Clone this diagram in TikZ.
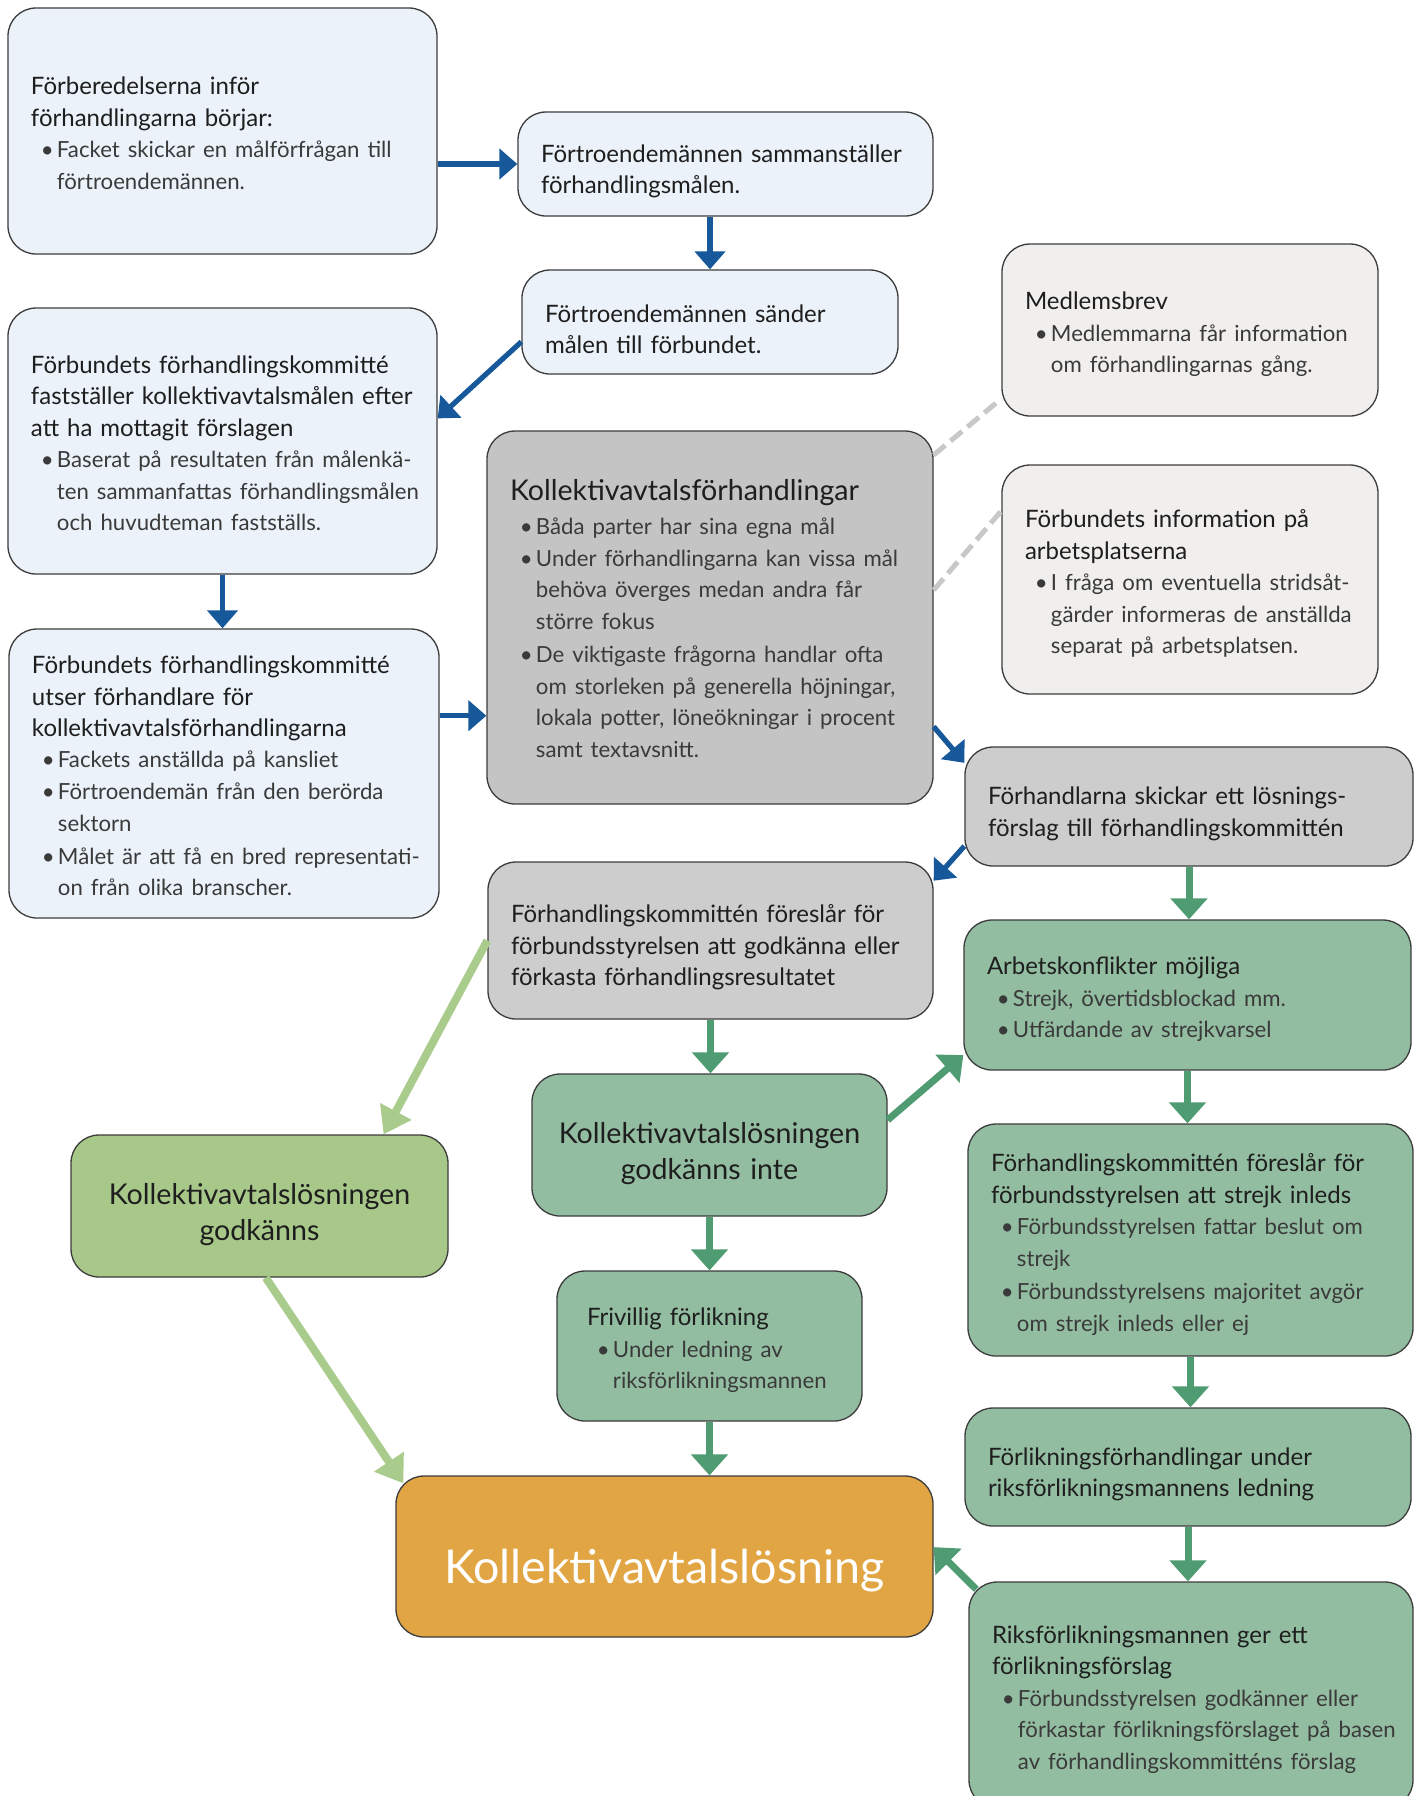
\documentclass[tikz,border=0pt]{standalone}
\usepackage{fontspec}
\setmainfont{Lato}
\usetikzlibrary{arrows.meta}

\definecolor{paleblue}{HTML}{EBF2FA}
\definecolor{flowblue}{HTML}{16589A}
\definecolor{darkgray}{HTML}{C4C4C4}
\definecolor{midgray}{HTML}{CDCDCD}
\definecolor{palegray}{HTML}{F0EFED}
\definecolor{sagegreen}{HTML}{93BDA1}
\definecolor{flowgreen}{HTML}{4F9C72}
\definecolor{limegreen}{HTML}{A8C889}
\definecolor{flowlime}{HTML}{A9CB8C}
\definecolor{amber}{HTML}{E2A544}
\definecolor{edgegray}{HTML}{3C3C3C}
\definecolor{inkblack}{HTML}{1E1E1E}
\definecolor{bulletgray}{HTML}{3A3A3A}
\definecolor{dashgray}{HTML}{C8C8C8}

\setlength{\parindent}{0pt}
\def\bodysize{\fontsize{12}{15.75}\selectfont}
\def\bigsize{\fontsize{14.3}{18.3}\selectfont}
\def\hugesize{\fontsize{23.3}{28}\selectfont}
\newcommand{\bpoint}[1]{\par{\color{bulletgray}\fontsize{11.1}{15.75}\selectfont\noindent\hspace*{0.45em}\makebox[0.72em][l]{\textbullet}\begin{tabular}[t]{@{}l@{}}#1\end{tabular}\par}}

\begin{document}
\begin{tikzpicture}[x=0.5pt, y=-0.5pt,
    card/.style={draw=edgegray, line width=0.65pt, rounded corners=14pt,
      inner xsep=11.5pt, inner ysep=3pt, align=left, text=inkblack, font=\bodysize,
      execute at begin node={\rule{0pt}{1.33em}}},
    bluecard/.style={card, fill=paleblue},
    graycard/.style={card, fill=darkgray},
    midcard/.style={card, fill=midgray},
    palecard/.style={card, fill=palegray},
    greencard/.style={card, fill=sagegreen},
    bigcard/.style={align=center, font=\bigsize, execute at begin node={\rule{0pt}{1.1em}}},
    bluearrow/.style={draw=flowblue, line width=2.6pt, -{Triangle[width=15pt,length=9pt]}},
    greenarrow/.style={draw=flowgreen, line width=3.5pt, -{Triangle[width=18pt,length=10.5pt]}},
    limearrow/.style={draw=flowlime, line width=4pt, -{Triangle[width=17pt,length=13pt]}},
    dashlink/.style={draw=dashgray, line width=2.5pt, dash pattern=on 7.5pt off 3.5pt}]

  \useasboundingbox (0,0) rectangle (1421,1796);
  \fill[white] (0,0) rectangle (1421,1796);
  \clip (0,0) rectangle (1421,1796);

  % left column, blue part
  \node[bluecard, text width=191.5pt, minimum height=123pt] (prep) at (222.5,131)
    {Förberedelserna inför\\förhandlingarna börjar:
     \bpoint{Facket skickar en målförfrågan till\\förtroendemännen.}};
  \node[bluecard, text width=184.5pt, minimum height=52pt] (goals) at (725.5,164)
    {Förtroendemännen sammanställer\\förhandlingsmålen.};
  \node[bluecard, text width=165pt, minimum height=52pt] (send) at (710,322)
    {Förtroendemännen sänder\\målen till förbundet.};
  \node[bluecard, text width=191.5pt, minimum height=133pt] (commit) at (222.5,441)
    {Förbundets förhandlingskommitté\\fastställer kollektivavtalsmålen efter\\att ha mottagit förslagen
     \bpoint{Baserat på resultaten från målenkä-\\ten sammanfattas förhandlingsmålen\\och huvudteman fastställs.}};
  \node[bluecard, text width=192pt, minimum height=144.5pt] (team) at (224,773.5)
    {Förbundets förhandlingskommitté\\utser förhandlare för\\kollektivavtalsförhandlingarna
     \bpoint{Fackets anställda på kansliet}
     \bpoint{Förtroendemän från den berörda\\sektorn}
     \bpoint{Målet är att få en bred representati-\\on från olika branscher.}};

  % negotiations and information
  \node[graycard, text width=200pt, minimum height=186.5pt] (talks) at (710,617.5)
    {{\bigsize Kollektivavtalsförhandlingar}\par\vspace{1.5pt}
     \bpoint{Båda parter har sina egna mål}
     \bpoint{Under förhandlingarna kan vissa mål\\behöva överges medan andra får\\större fokus}
     \bpoint{De viktigaste frågorna handlar ofta\\om storleken på generella höjningar,\\lokala potter, löneökningar i procent\\samt textavsnitt.}};
  \node[palecard, text width=165pt, minimum height=86pt] (letter) at (1190,330)
    {Medlemsbrev
     \bpoint{Medlemmarna får information\\om förhandlingarnas gång.}};
  \node[palecard, text width=165pt, minimum height=114.5pt] (workinfo) at (1190,579.5)
    {Förbundets information på\\arbetsplatserna
     \bpoint{I fråga om eventuella stridsåt-\\gärder informeras de anställda\\separat på arbetsplatsen.}};
  \node[midcard, text width=201pt, minimum height=59.5pt] (solution) at (1189,806.5)
    {Förhandlarna skickar ett lösnings-\\förslag till förhandlingskommittén};
  \node[midcard, text width=199.5pt, minimum height=78.5pt] (proposal) at (710.5,940.5)
    {Förhandlingskommittén föreslår för\\förbundsstyrelsen att godkänna eller\\förkasta förhandlingsresultatet};

  % outcomes
  \node[card, fill=limegreen, bigcard, text width=165.5pt, minimum height=71pt] (approved) at (259.5,1206)
    {Kollektivavtalslösningen\\godkänns};
  \node[greencard, bigcard, text width=154.5pt, minimum height=71pt] (rejected) at (709.5,1145)
    {Kollektivavtalslösningen\\godkänns inte};
  \node[greencard, text width=200.5pt, minimum height=75pt] (conflict) at (1187.5,995)
    {Arbetskonflikter möjliga
     \bpoint{Strejk, övertidsblockad mm.}
     \bpoint{Utfärdande av strejkvarsel}};
  \node[greencard, text width=199.5pt, minimum height=116pt] (strike) at (1190.5,1240)
    {Förhandlingskommittén föreslår för\\förbundsstyrelsen att strejk inleds
     \bpoint{Förbundsstyrelsen fattar beslut om\\strejk}
     \bpoint{Förbundsstyrelsens majoritet avgör\\om strejk inleds eller ej}};
  \node[greencard, inner xsep=15pt, text width=122.5pt, minimum height=75pt] (mediation) at (709.5,1346)
    {Frivillig förlikning
     \bpoint{Under ledning av\\riksförlikningsmannen}};
  \node[greencard, text width=200pt, minimum height=59pt] (conciliation) at (1188,1467)
    {Förlikningsförhandlingar under\\riksförlikningsmannens ledning};
  \node[card, fill=amber, align=center, text=white, font=\hugesize, text width=245.5pt, minimum height=80.5pt,
        execute at begin node={\rule{0pt}{0.85em}}] (settlement) at (664.5,1556.5)
    {Kollektivavtalslösning};
  \node[greencard, text width=199pt, minimum height=113pt] (offer) at (1191,1695)
    {Riksförlikningsmannen ger ett\\förlikningsförslag
     \bpoint{Förbundsstyrelsen godkänner eller\\förkastar förlikningsförslaget på basen\\av förhandlingskommitténs förslag}};

  % connectors
  \draw[dashlink] (talks.36) -- (letter.200);
  \draw[dashlink] (talks.7) -- (workinfo.160);
  \draw[bluearrow] (prep.east |- goals.west) -- (goals.west);
  \draw[bluearrow] (goals.south -| send.north) -- (send.north);
  \draw[bluearrow] (send.186) -- (commit.6);
  \draw[bluearrow] (commit.south) -- (commit.south |- team.north);
  \draw[bluearrow] (team.15) -- (team.15 -| talks.west);
  \draw[bluearrow] (talks.-26) -- (solution.169);
  \draw[bluearrow] (solution.190) -- (proposal.15);
  \draw[greenarrow] (solution.south) -- (solution.south |- conflict.north);
  \draw[limearrow] (proposal.west) -- (approved.30);
  \draw[greenarrow] (proposal.south) -- (proposal.south |- rejected.north);
  \draw[greenarrow] (rejected.8) -- (conflict.195);
  \draw[greenarrow] (conflict.south) -- (conflict.south |- strike.north);
  \draw[greenarrow] (rejected.south) -- (rejected.south |- mediation.north);
  \draw[greenarrow] (mediation.south) -- (mediation.south |- settlement.north);
  \draw[greenarrow] (strike.south) -- (strike.south |- conciliation.north);
  \draw[greenarrow] (conciliation.south) -- (conciliation.south |- offer.north);
  \draw[greenarrow] ([shift={(8,8)}]offer.north west) -- (settlement.2);
  \draw[limearrow] (approved.-85) -- ([shift={(8,8)}]settlement.north west);
\end{tikzpicture}
\end{document}
